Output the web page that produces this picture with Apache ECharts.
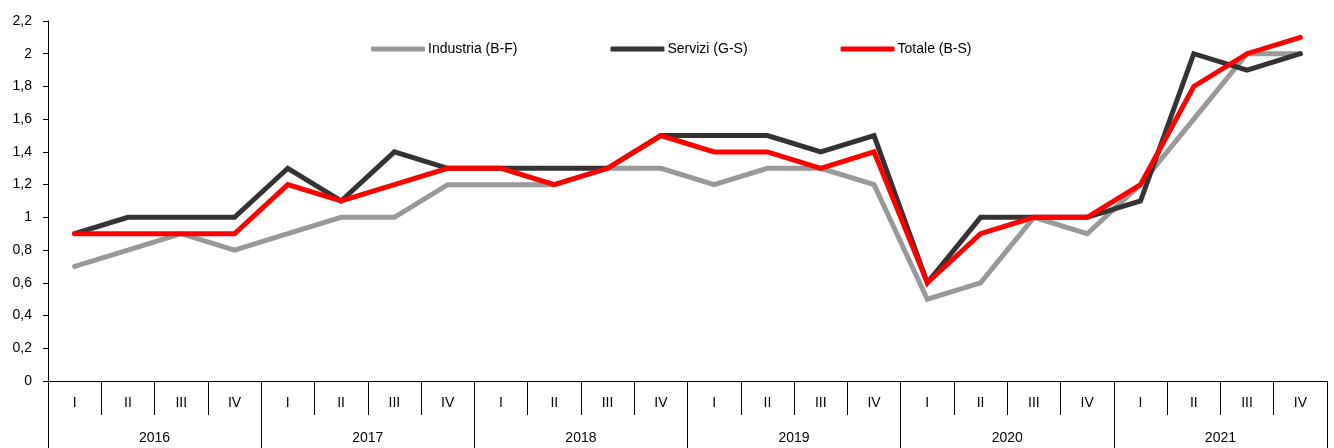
<!DOCTYPE html>
<html>
<head>
<meta charset="utf-8">
<script src="https://cdn.jsdelivr.net/npm/echarts@6/dist/echarts.min.js"></script>
<style>
html,body{margin:0;padding:0;background:#fff;}
#chart{width:1334px;height:448px;}
</style>
</head>
<body>
<div id="chart"></div>
<script>
const quarters = ["I","II","III","IV","I","II","III","IV","I","II","III","IV","I","II","III","IV","I","II","III","IV","I","II","III","IV"];
const years = ["2016","2017","2018","2019","2020","2021"];
const industria = [0.7,0.8,0.9,0.8, 0.9,1.0,1.0,1.2, 1.2,1.2,1.3,1.3, 1.2,1.3,1.3,1.2, 0.5,0.6,1.0,0.9, 1.2,1.6,2.0,2.0];
const servizi   = [0.9,1.0,1.0,1.0, 1.3,1.1,1.4,1.3, 1.3,1.3,1.3,1.5, 1.5,1.5,1.4,1.5, 0.6,1.0,1.0,1.0, 1.1,2.0,1.9,2.0];
const totale    = [0.9,0.9,0.9,0.9, 1.2,1.1,1.2,1.3, 1.3,1.2,1.3,1.5, 1.4,1.4,1.3,1.4, 0.6,0.9,1.0,1.0, 1.2,1.8,2.0,2.1];
const seriesNames = ["Industria (B-F)","Servizi (G-S)","Totale (B-S)"];

const FONT = '"Liberation Sans Narrow","Liberation Sans",Arial,sans-serif';
const chart = echarts.init(document.getElementById('chart'), null, {renderer:'canvas'});

function lineSeries(name, data, color){
  return {
    name, type:'line', data, xAxisIndex:0, yAxisIndex:0,
    showSymbol:false, symbol:'none', silent:true, animation:false,
    lineStyle:{color, width:5, cap:'round', join:'miter'},
    itemStyle:{color}
  };
}

chart.setOption({
  animation:false,
  backgroundColor:'#fff',
  textStyle:{fontFamily:FONT},
  grid:{left:48, right:7, top:21, bottom:67, containLabel:false},
  legend:{
    top:37, left:366,
    itemWidth:54, itemHeight:5, itemGap:93,
    icon:'roundRect',
    textStyle:{fontFamily:FONT, fontSize:14, color:'#000', padding:[0,0,0,-2]},
    data:seriesNames
  },
  xAxis:[
    {
      type:'category', data:quarters, position:'bottom', boundaryGap:true,
      axisLine:{show:true, lineStyle:{color:'#000', width:1}},
      axisTick:{show:true, interval:0, length:34, lineStyle:{color:'#000'}},
      axisLabel:{interval:0, margin:15, color:'#000', fontFamily:FONT, fontSize:14},
      splitLine:{show:false}
    },
    {
      type:'category', data:years, position:'bottom', boundaryGap:true,
      axisLine:{show:true, lineStyle:{color:'#000', width:1}},
      axisTick:{show:true, interval:0, length:67, lineStyle:{color:'#000'}},
      axisLabel:{interval:0, margin:50, color:'#000', fontFamily:FONT, fontSize:14},
      splitLine:{show:false}
    }
  ],
  yAxis:{
    type:'value', min:0, max:2.2, interval:0.2,
    axisLine:{show:true, lineStyle:{color:'#000', width:1}},
    axisTick:{show:true, length:5, lineStyle:{color:'#000'}},
    axisLabel:{margin:16, color:'#000', fontFamily:FONT, fontSize:14,
      formatter:v=>String(Math.round(v*10)/10).replace('.',',')},
    splitLine:{show:false}
  },
  series:[
    lineSeries(seriesNames[0], industria, '#999999'),
    lineSeries(seriesNames[1], servizi, '#333333'),
    lineSeries(seriesNames[2], totale, '#ff0000')
  ]
});
</script>
</body>
</html>
